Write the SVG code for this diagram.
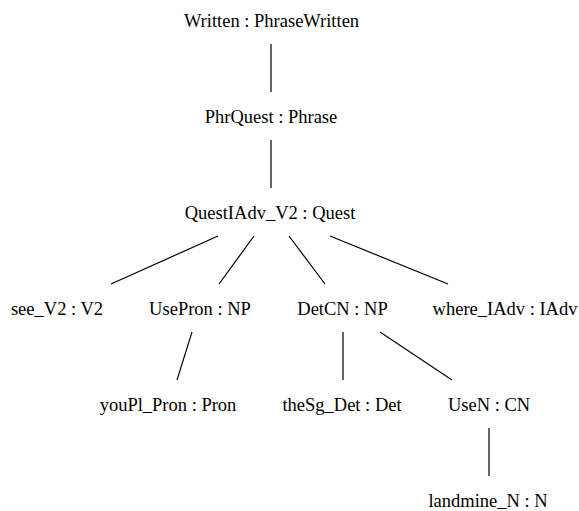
<svg xmlns="http://www.w3.org/2000/svg" width="579" height="511" viewBox="0 0 579 511">
  <style>
    .lbl { font-family: "Liberation Serif", "Times New Roman", serif; font-size: 18.5px; fill: #000; text-anchor: middle; }
    .edge { stroke: #000; stroke-width: 1.2; fill: none; }
  </style>
  <rect width="579" height="511" fill="#ffffff"/>

  <!-- tree edges -->
  <g id="edges">
    <line class="edge" x1="271" y1="44" x2="271" y2="92"/>
    <line class="edge" x1="271" y1="140" x2="271" y2="188"/>
    <line class="edge" x1="218" y1="236" x2="111" y2="284"/>
    <line class="edge" x1="254" y1="236" x2="219" y2="284"/>
    <line class="edge" x1="289" y1="236" x2="325" y2="284"/>
    <line class="edge" x1="330" y1="236" x2="448" y2="284"/>
    <line class="edge" x1="192" y1="332" x2="177" y2="380"/>
    <line class="edge" x1="343" y1="332" x2="343" y2="380"/>
    <line class="edge" x1="380" y1="332" x2="452" y2="380"/>
    <line class="edge" x1="489" y1="428" x2="489" y2="476"/>
  </g>

  <!-- tree nodes -->
  <g id="n-written"><text class="lbl" x="271.5" y="27">Written : PhraseWritten</text></g>
  <g id="n-phrquest"><text class="lbl" x="271" y="123">PhrQuest : Phrase</text></g>
  <g id="n-questiadv"><text class="lbl" x="270" y="219">QuestIAdv_V2 : Quest</text></g>
  <g id="n-see"><text class="lbl" x="57" y="315">see_V2 : V2</text></g>
  <g id="n-usepron"><text class="lbl" x="200" y="315">UsePron : NP</text></g>
  <g id="n-detcn"><text class="lbl" x="342.5" y="315">DetCN : NP</text></g>
  <g id="n-where"><text class="lbl" x="505" y="315">where_IAdv : IAdv</text></g>
  <g id="n-youpl"><text class="lbl" x="168" y="411">youPl_Pron : Pron</text></g>
  <g id="n-thesg"><text class="lbl" x="342" y="411">theSg_Det : Det</text></g>
  <g id="n-usen"><text class="lbl" x="489" y="411">UseN : CN</text></g>
  <g id="n-landmine"><text class="lbl" x="488" y="507">landmine_N : N</text></g>
</svg>
